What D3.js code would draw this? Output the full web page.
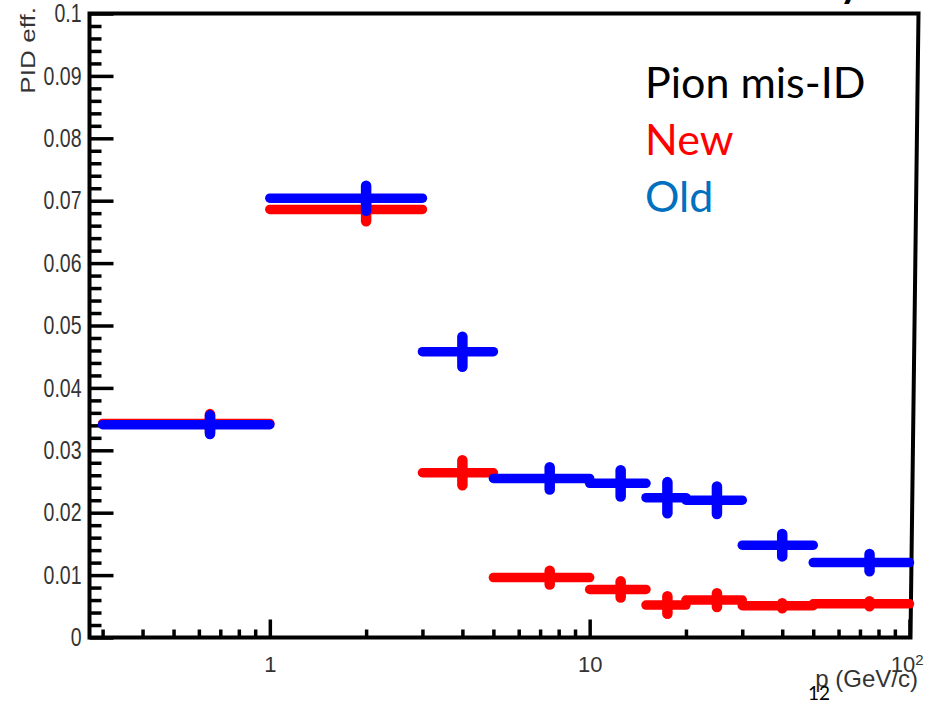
<!DOCTYPE html>
<html>
<head>
<meta charset="utf-8">
<script src="https://cdn.jsdelivr.net/npm/d3@7"></script>
<style>
  html, body { margin: 0; padding: 0; background: #fff; }
  svg { display: block; }
  .tick text { fill: #333; font-family: "Liberation Sans", Arial, sans-serif; }
</style>
</head>
<body>
<svg id="chart" width="927" height="703"></svg>
<script>
// Momentum bins (GeV/c): lower edge, upper edge and bin centre
const binLow    = [0.3, 1, 3, 5, 10, 15, 20, 30, 50];
const binHigh   = [1, 3, 5, 10, 15, 20, 30, 50, 100];
const binCenter = [0.65, 2, 4, 7.5, 12.5, 17.5, 25, 40, 75];

// Pion mis-ID efficiency, new selection
const newEff = [0.0343, 0.0686, 0.0264, 0.0096, 0.0077, 0.0052, 0.0060, 0.0051, 0.0054];
const newErr = [0.0015, 0.0019, 0.0020, 0.0011, 0.0013, 0.0014, 0.0011, 0.0004, 0.0004];

// Pion mis-ID efficiency, old selection
const oldEff = [0.0341, 0.0704, 0.0458, 0.0255, 0.0247, 0.0224, 0.0220, 0.0148, 0.0120];
const oldErr = [0.0015, 0.0020, 0.0024, 0.0018, 0.0021, 0.0025, 0.0022, 0.0018, 0.0014];

// Axis ticks
const yMajorTicks = [0, 0.01, 0.02, 0.03, 0.04, 0.05, 0.06, 0.07, 0.08, 0.09, 0.1];
const yMinorTicks = d3.range(0, 50).map(i => i * 0.002).filter(v => Math.round(v * 1000) % 10 !== 0);
const xMajorTicks = [1, 10, 100];
const xMinorTicks = [0.3, 0.4, 0.5, 0.6, 0.7, 0.8, 0.9, 2, 3, 4, 5, 6, 7, 8, 9, 20, 30, 40, 50, 60, 70, 80, 90];

const legendLines = [
  { text: "Pion mis-ID", color: "#000000" },
  { text: "New", color: "#ff0000" },
  { text: "Old", color: "#0070c0" }
];

const svg = d3.select("#chart");

const x = d3.scaleLog().domain([0.273, 100]).range([89.5, 909.5]);
const y = d3.scaleLinear().domain([0, 0.1]).range([637.5, 13.5]);

const defs = svg.append("defs");
defs.append("filter").attr("id", "soft")
  .append("feGaussianBlur").attr("stdDeviation", 0.6);

// --- frame ---
const x0 = x.range()[0], x1 = x.range()[1];
const yb = y(0), yt = y(0.1);
svg.append("path")
  .attr("d", `M${x0},${yb} L${x0},${yt} L${x1 + 9},${yt} L${x1 + 1},${yb} Z`)
  .attr("fill", "none").attr("stroke", "#000").attr("stroke-width", 4)
  .attr("stroke-linejoin", "miter");

// --- y axis ---
const yMajor = svg.append("g").attr("transform", `translate(${x0},0)`)
  .call(d3.axisLeft(y).tickValues(yMajorTicks).tickSize(-24).tickPadding(8)
    .tickFormat(d => d === 0 ? "0" : String(+d.toFixed(2))));
yMajor.select(".domain").remove();
yMajor.selectAll(".tick line").attr("stroke", "#000").attr("stroke-width", 3.5);
yMajor.selectAll(".tick text")
  .attr("font-size", 19.5)
  .attr("transform", "scale(1,1.3)");

const yMinor = svg.append("g").attr("transform", `translate(${x0},0)`)
  .call(d3.axisLeft(y).tickValues(yMinorTicks).tickSize(-12).tickFormat(""));
yMinor.select(".domain").remove();
yMinor.selectAll(".tick line").attr("stroke", "#000").attr("stroke-width", 3.5);

// --- x axis ---
const xMajor = svg.append("g").attr("transform", `translate(0,${yb})`)
  .call(d3.axisBottom(x).tickValues(xMajorTicks).tickSize(-18).tickPadding(19)
    .tickFormat(d => d === 100 ? "10" : String(d)));
xMajor.select(".domain").remove();
xMajor.selectAll(".tick line").attr("stroke", "#000").attr("stroke-width", 3.5);
xMajor.selectAll(".tick text").attr("font-size", 22);
xMajor.selectAll(".tick").filter(d => d === 100).select("text")
  .attr("text-anchor", "end").attr("x", 13.5)
  .append("tspan").attr("dy", "-0.45em").attr("font-size", 15).text("2");

const xMinor = svg.append("g").attr("transform", `translate(0,${yb})`)
  .call(d3.axisBottom(x).tickValues(xMinorTicks).tickSize(-8).tickFormat(""));
xMinor.select(".domain").remove();
xMinor.selectAll(".tick line").attr("stroke", "#000").attr("stroke-width", 3.5);

// --- axis titles ---
svg.append("text")
  .attr("transform", "translate(35,7) rotate(-90) scale(1.34,1)")
  .attr("text-anchor", "end")
  .attr("font-family", "Liberation Sans, Arial, sans-serif")
  .attr("font-size", 19.5).attr("fill", "#333")
  .text("PID eff.");

svg.append("text")
  .attr("x", 918).attr("y", 687)
  .attr("text-anchor", "end")
  .attr("font-family", "Liberation Sans, Arial, sans-serif")
  .attr("font-size", 24).attr("fill", "#333")
  .text("p (GeV/c)");

// --- data: horizontal bin bars plus vertical error bars ---
function drawSeries(eff, err, color) {
  const g = svg.append("g").attr("filter", "url(#soft)");
  const idx = d3.range(eff.length);
  g.selectAll("line.h").data(idx).join("line").attr("class", "h")
    .attr("x1", i => x(binLow[i])).attr("x2", i => x(binHigh[i]))
    .attr("y1", i => y(eff[i])).attr("y2", i => y(eff[i]))
    .attr("stroke", color).attr("stroke-width", 9.5).attr("stroke-linecap", "round");
  g.selectAll("line.v").data(idx).join("line").attr("class", "v")
    .attr("x1", i => x(binCenter[i])).attr("x2", i => x(binCenter[i]))
    .attr("y1", i => y(eff[i] - err[i])).attr("y2", i => y(eff[i] + err[i]))
    .attr("stroke", color).attr("stroke-width", 10.5).attr("stroke-linecap", "round");
}
drawSeries(newEff, newErr, "#ff0000");
drawSeries(oldEff, oldErr, "#0000ff");

// --- legend text ---
svg.append("g").selectAll("text").data(legendLines).join("text")
  .attr("x", 645).attr("y", (d, i) => 98 + i * 57)
  .attr("font-family", "Lato, 'Open Sans', sans-serif")
  .attr("font-size", 43)
  .attr("fill", d => d.color)
  .text(d => d.text);

// descender of the heading above the chart
svg.append("text")
  .attr("x", 850).attr("y", -3)
  .attr("text-anchor", "middle")
  .attr("font-family", "Lato, sans-serif").attr("font-weight", "bold")
  .attr("font-size", 40).attr("fill", "#000")
  .text("y");

// page number
svg.append("text")
  .attr("x", 808).attr("y", 700)
  .attr("font-family", "Lato, sans-serif")
  .attr("font-size", 19).attr("fill", "#000")
  .text("12");
</script>
</body>
</html>
